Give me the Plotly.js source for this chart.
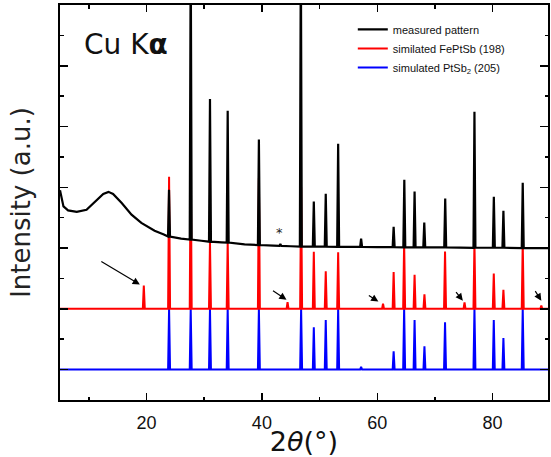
<!DOCTYPE html>
<html>
<head>
<meta charset="utf-8">
<script src="https://cdn.plot.ly/plotly-3.0.1.min.js"></script>
<style>html,body{margin:0;padding:0;background:#fff;}#chart{width:551px;height:457px;}</style>
</head>
<body>
<div id="chart"></div>
<script>
// ---- Data ----
// Measured pattern: smooth background (2theta, intensity)
const bgX = [5, 5.2, 5.6, 6.4, 7.9, 9.6, 11.1, 12.5, 13.4, 14.2, 15.7, 17.4, 19.1, 21.4, 23.0, 26.0, 29.5, 33.0, 37.0, 42.0, 45.0, 55.0, 60.0, 70.0, 79.0, 89.6];
const bgY = [5.9, 5.75, 5.37, 5.24, 5.19, 5.26, 5.54, 5.78, 5.85, 5.78, 5.48, 5.10, 4.83, 4.57, 4.45, 4.31, 4.24, 4.19, 4.12, 4.08, 4.06, 4.04, 4.03, 4.02, 4.01, 4.0];
// Measured pattern: peaks (position, local background, peak top)
const measPeakPos  = [23.9, 27.66, 31.0, 34.07, 39.48, 43.2, 46.75, 49.0, 51.07, 53.22, 57.2, 62.84, 64.69, 66.47, 68.15, 71.78, 76.85, 80.21, 81.87, 85.22];
const measPeakBase = [4.38, 4.28, 4.21, 4.18, 4.10, 4.07, 4.05, 4.05, 4.05, 4.04, 4.04, 4.03, 4.02, 4.02, 4.02, 4.02, 4.01, 4.01, 4.01, 4.0];
const measPeakTop  = [5.92, 14.0, 8.91, 8.52, 7.57, 4.13, 14.0, 5.53, 5.79, 7.43, 4.31, 4.70, 6.25, 5.86, 4.84, 5.63, 8.49, 5.69, 5.23, 6.15];
// Simulated FePtSb (198): positions and intensities above its baseline
const fePos = [19.53, 23.91, 27.66, 31.0, 34.07, 39.48, 44.45, 46.8, 49.0, 51.07, 53.22, 61.0, 62.84, 64.66, 66.47, 68.18, 71.75, 75.13, 76.85, 80.2, 81.87, 85.22, 88.44];
const feInt = [0.77, 4.35, 5.0, 2.2, 2.2, 4.3, 0.22, 4.0, 1.88, 1.24, 1.86, 0.17, 1.21, 2.2, 1.12, 0.48, 1.89, 0.21, 2.2, 1.16, 0.63, 2.2, 0.11];
// Simulated PtSb2 (205): positions and intensities above its baseline
const ptPos = [23.91, 27.66, 31.0, 34.07, 39.48, 46.8, 49.0, 51.07, 53.22, 57.2, 62.84, 64.66, 66.47, 68.18, 71.75, 76.85, 80.2, 81.87, 85.22];
const ptInt = [2.0, 2.0, 2.0, 2.0, 2.0, 2.0, 1.39, 1.63, 2.0, 0.09, 0.6, 2.0, 1.63, 0.77, 1.56, 2.0, 1.63, 1.04, 2.0];
const xTickVals = [20, 40, 60, 80];
const xTickText = ['20', '40', '60', '80'];

// ---- Layout constants (not data) ----
const FE_OFFSET = 2, PT_OFFSET = 0;
const X_MIN = 5, X_MAX = 89.6;
const HALF = 0.17; // half base width of a drawn peak

function spikes(pos, ints, base) {
  const pts = [[X_MIN, base]];
  pos.forEach((p, i) => {
    pts.push([p - HALF, base], [p, base + ints[i]], [p + HALF, base]);
  });
  pts.push([X_MAX, base]);
  return {x: pts.map(d => d[0]), y: pts.map(d => d[1])};
}
function measured() {
  const pts = bgX.map((x, i) => [x, bgY[i]]);
  measPeakPos.forEach((p, i) => {
    pts.push([p - HALF, measPeakBase[i]], [p, measPeakTop[i]], [p + HALF, measPeakBase[i]]);
  });
  pts.sort((a, b) => a[0] - b[0]);
  return {x: pts.map(d => d[0]), y: pts.map(d => d[1])};
}

const pt = spikes(ptPos, ptInt, PT_OFFSET);
const fe = spikes(fePos, feInt, FE_OFFSET);
const me = measured();

const traces = [
  {x: pt.x, y: pt.y, mode: 'lines', name: 'simulated PtSb<sub>2</sub> (205)', line: {color: '#0000ff', width: 2}},
  {x: fe.x, y: fe.y, mode: 'lines', name: 'similated FePtSb (198)', line: {color: '#ff0000', width: 2}},
  {x: me.x, y: me.y, mode: 'lines', name: 'measured pattern', line: {color: '#000000', width: 2.2}}
];

function arrow(x, y, ax, ay) {
  return {x: x, y: y, xref: 'x', yref: 'y', text: '', showarrow: true,
          ax: ax, ay: ay, arrowhead: 2, arrowsize: 1.2, arrowwidth: 1.2, arrowcolor: '#000', standoff: 0, startstandoff: 0};
}

const layout = {
  width: 551, height: 457,
  margin: {l: 60, r: 3, t: 5, b: 57},
  paper_bgcolor: '#fff', plot_bgcolor: '#fff',
  showlegend: true,
  legend: {x: 0.60, y: 0.975, xanchor: 'left', yanchor: 'top', traceorder: 'reversed',
           bgcolor: 'rgba(0,0,0,0)', itemwidth: 30, tracegroupgap: 0,
           font: {family: 'Liberation Sans, Arial, sans-serif', size: 11, color: '#111'}},
  xaxis: {
    range: [X_MIN, X_MAX], showgrid: false, zeroline: false,
    showline: true, linecolor: '#000', linewidth: 2, mirror: 'ticks',
    ticks: 'inside', ticklen: 7, tickwidth: 1.5, tickcolor: '#000',
    tickvals: xTickVals, ticktext: xTickText, ticklabelstandoff: 5,
    minor: {dtick: 10, tick0: 0, ticks: 'inside', ticklen: 3.5, tickwidth: 1.5, tickcolor: '#000', showgrid: false},
    tickfont: {family: 'Liberation Sans, Arial, sans-serif', size: 18, color: '#111'},
    title: {text: '2<i>θ</i>(°)', standoff: 3, font: {family: 'DejaVu Sans, sans-serif', size: 27, color: '#111'}}
  },
  yaxis: {
    range: [-1, 12], showgrid: false, zeroline: false,
    showline: true, linecolor: '#000', linewidth: 2, mirror: 'ticks',
    ticks: 'inside', ticklen: 8, tickwidth: 1.5, tickcolor: '#000',
    dtick: 2, tick0: 0, showticklabels: false,
    minor: {dtick: 1, ticks: 'inside', ticklen: 3.5, tickwidth: 1.5, tickcolor: '#000', showgrid: false},
    title: {text: 'Intensity (a.u.)', standoff: 20, font: {family: 'DejaVu Sans, sans-serif', size: 26, color: '#222'}}
  },
  annotations: [
    {xref: 'paper', yref: 'paper', x: 0.045, y: 0.901, xanchor: 'left', yanchor: 'middle', showarrow: false,
     text: 'Cu K<b>α</b>', font: {family: 'DejaVu Sans, sans-serif', size: 28, color: '#111'}},
    {xref: 'x', yref: 'y', x: 43.06, y: 4.5, text: '*', showarrow: false, font: {family: 'DejaVu Sans, sans-serif', size: 13, color: '#222'}},
    arrow(18.84, 2.80, -40, -24),
    arrow(44.27, 2.30, -15, -10),
    arrow(60.19, 2.24, -11, -7),
    arrow(74.84, 2.27, -8, -10),
    arrow(88.44, 2.27, -7, -11)
  ]
};

Plotly.newPlot('chart', traces, layout, {displayModeBar: false, staticPlot: true});
</script>
</body>
</html>
